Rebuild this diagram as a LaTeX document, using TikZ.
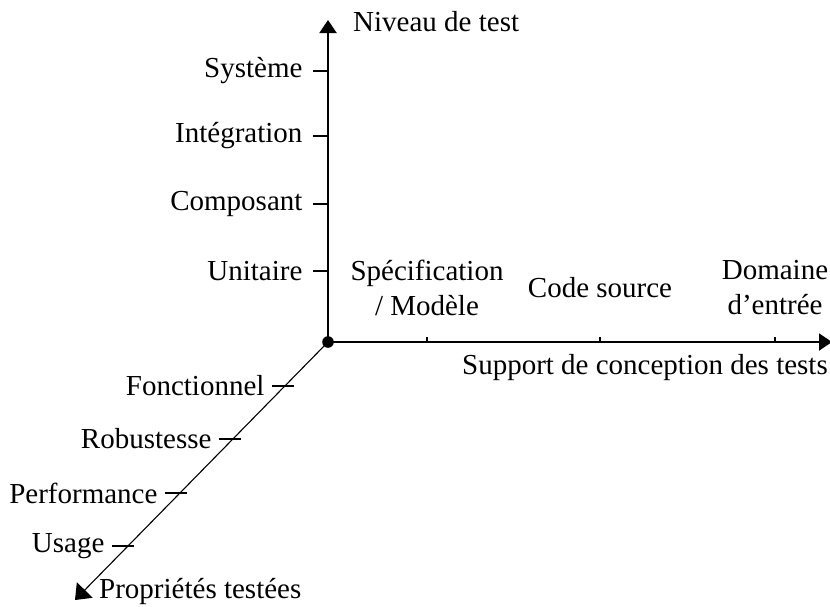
\documentclass[tikz,border=0pt]{standalone}
\usepackage{fontspec}
\setmainfont{Liberation Serif}
\usetikzlibrary{arrows.meta}
\begin{document}
\begin{tikzpicture}[x=1pt,y=-1pt,
  font=\fontsize{29}{35}\selectfont,
  axis/.style={line width=2pt},
  diag/.style={line width=1.1pt},
  tick/.style={line width=1.1pt},
  lab/.style={inner sep=2pt, align=center}]
\useasboundingbox (0,0) rectangle (830,606);
\coordinate (O) at (328,342);
\coordinate (Y) at (328,20);
\coordinate (X) at (832,342);
\coordinate (Z) at (75,600);
% axes
\draw[axis,-{Triangle[length=13,width=17]}] (O) -- (Y);
\draw[axis,-{Triangle[length=13,width=17]}] (O) -- (X);
\draw[diag,-{Triangle[length=14,width=22]}] (O) -- (Z);
\fill (O) circle (5.8);
% axis titles
\node[lab,anchor=west] (ty) at (351,22) {Niveau de test};
\node[lab,anchor=east] (tx) at (830,368) {Support de conception des tests};
\node[lab,anchor=west] (tz) at (97,591) {Propriétés testées};
% vertical ticks
\coordinate (y1) at (328,271);
\coordinate (y2) at (328,204);
\coordinate (y3) at (328,136);
\coordinate (y4) at (328,71);
\draw[tick] (y1) -- ++(-15,0) node[lab,anchor=east,xshift=-8] (l1) {Unitaire};
\draw[tick] (y2) -- ++(-15,0) node[lab,anchor=east,xshift=-8] (l2) {Composant};
\draw[tick] (y3) -- ++(-15,0) node[lab,anchor=east,xshift=-8] (l3) {Intégration};
\draw[tick] (y4) -- ++(-15,0) node[lab,anchor=east,xshift=-8] (l4) {Système};
% horizontal ticks
\coordinate (x1) at (427,342);
\coordinate (x2) at (600,342);
\coordinate (x3) at (775,342);
\draw[tick] (x1) -- ++(0,-5);
\draw[tick] (x2) -- ++(0,-5);
\draw[tick] (x3) -- ++(0,-5);
\node[lab] (h1) at (427,288) {Spécification\\/ Modèle};
\node[lab] (h2) at (600,288) {Code source};
\node[lab] (h3) at (775,288) {Domaine\\d’entrée};
% diagonal ticks
\coordinate (z1) at (284,386);
\coordinate (z2) at (231,439);
\coordinate (z3) at (177,493);
\coordinate (z4) at (124,546);
\draw[tick] ([xshift=10]z1) -- ([xshift=-12]z1) node[lab,anchor=east,xshift=-5] (d1) {Fonctionnel};
\draw[tick] ([xshift=10]z2) -- ([xshift=-12]z2) node[lab,anchor=east,xshift=-5] (d2) {Robustesse};
\draw[tick] ([xshift=10]z3) -- ([xshift=-12]z3) node[lab,anchor=east,xshift=-5] (d3) {Performance};
\draw[tick] ([xshift=10]z4) -- ([xshift=-12]z4) node[lab,anchor=east,xshift=-5] (d4) {Usage};
\end{tikzpicture}
\end{document}
